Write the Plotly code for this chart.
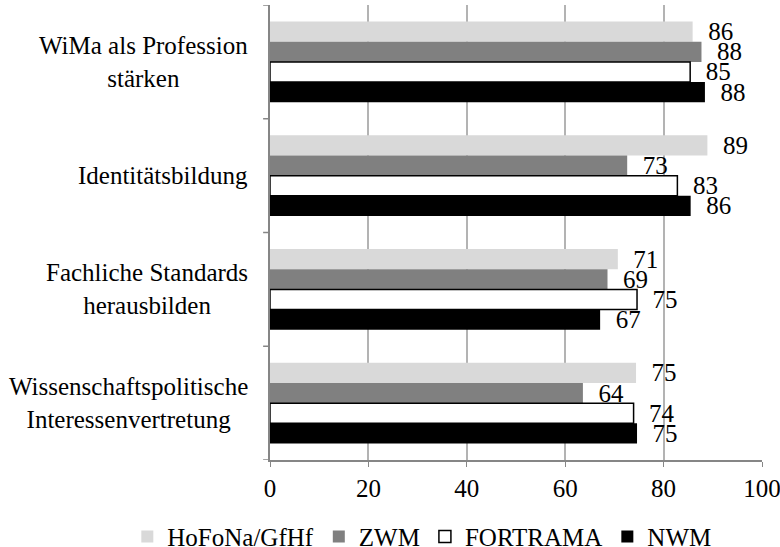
import plotly.graph_objects as go

categories = [
    "WiMa als Profession<br>stärken",
    "Identitätsbildung",
    "Fachliche Standards<br>herausbilden",
    "Wissenschaftspolitische<br>Interessenvertretung",
]
series_names = ["HoFoNa/GfHf", "ZWM", "FORTRAMA", "NWM"]
hofona = [85.9, 88.9, 70.7, 74.4]
zwm = [87.7, 72.6, 68.6, 63.6]
fortrama = [85.4, 82.8, 74.6, 73.9]
nwm = [88.4, 85.5, 67.1, 74.6]
hofona_labels = ["86", "89", "71", "75"]
zwm_labels = ["88", "73", "69", "64"]
fortrama_labels = ["85", "83", "75", "74"]
nwm_labels = ["88", "86", "67", "75"]
x_ticks = [0, 20, 40, 60, 80, 100]

FONT = "Liberation Serif"
FS = 25

values = [hofona, zwm, fortrama, nwm]
labels = [hofona_labels, zwm_labels, fortrama_labels, nwm_labels]
fills = ["#D9D9D9", "#808080", "#FFFFFF", "#000000"]
lines = [0, 0, 1.5, 0]

fig = go.Figure()
cat_ids = list(range(len(categories)))
for name, vals, labs, fill, lw in zip(series_names, values, labels, fills, lines):
    fig.add_trace(go.Bar(
        name=name, y=cat_ids, x=vals, orientation="h",
        marker=dict(color=fill, line=dict(color="#000000", width=lw)),
        text=labs,
        texttemplate="\u00a0\u00a0%{text}",
        textposition="outside", constraintext="none", cliponaxis=False,
        textfont=dict(family=FONT, size=FS, color="#000000"),
        hoverinfo="skip",
    ))

for i, cat in enumerate(categories):
    fig.add_annotation(
        x=0, xref="paper", y=i, yref="y", text=cat, showarrow=False,
        xanchor="right", yanchor="middle", align="center", xshift=-20,
        font=dict(family=FONT, size=FS, color="#000000"),
    )

fig.add_annotation(
    x=-0.062, xref="paper", y=1, yref="paper", yanchor="bottom", yshift=4,
    text="(in Prozent)", showarrow=False,
    font=dict(family=FONT, size=FS, color="#000000"),
)

fig.update_layout(
    width=780, height=547,
    margin=dict(l=270, r=18, t=5, b=87, autoexpand=False),
    plot_bgcolor="#FFFFFF", paper_bgcolor="#FFFFFF",
    barmode="group", bargap=0.29, bargroupgap=0,
    font=dict(family=FONT, size=FS, color="#000000"),
    showlegend=True,
    legend=dict(orientation="h", x=-0.29, xanchor="left", y=-0.118, yanchor="top",
                font=dict(family=FONT, size=FS, color="#000000"),
                itemclick=False, tracegroupgap=0),
    xaxis=dict(range=[0, 100], tickvals=x_ticks, showgrid=True, gridcolor="#B3B3B3",
               gridwidth=1.5, showline=True, linecolor="#868686", linewidth=1.5,
               ticks="outside", ticklen=5, tickcolor="#868686", zeroline=False,
               ticklabeloverflow="allow",
               tickfont=dict(family=FONT, size=FS, color="#000000")),
    yaxis=dict(tickvals=cat_ids, ticktext=[""] * len(cat_ids), range=[3.5, -0.5],
               showgrid=False, showline=True, linecolor="#868686", linewidth=2,
               zeroline=False, showticklabels=False),
)

# boundary ticks on the category axis
for b in [-0.5, 0.5, 1.5, 2.5, 3.5]:
    fig.add_shape(type="line", xref="paper", yref="y", x0=-0.014, x1=0, y0=b, y1=b,
                  line=dict(color="#868686", width=1.5))

fig.write_html("out.html", config={"displayModeBar": False},
               post_script="document.body.style.margin='0';")
